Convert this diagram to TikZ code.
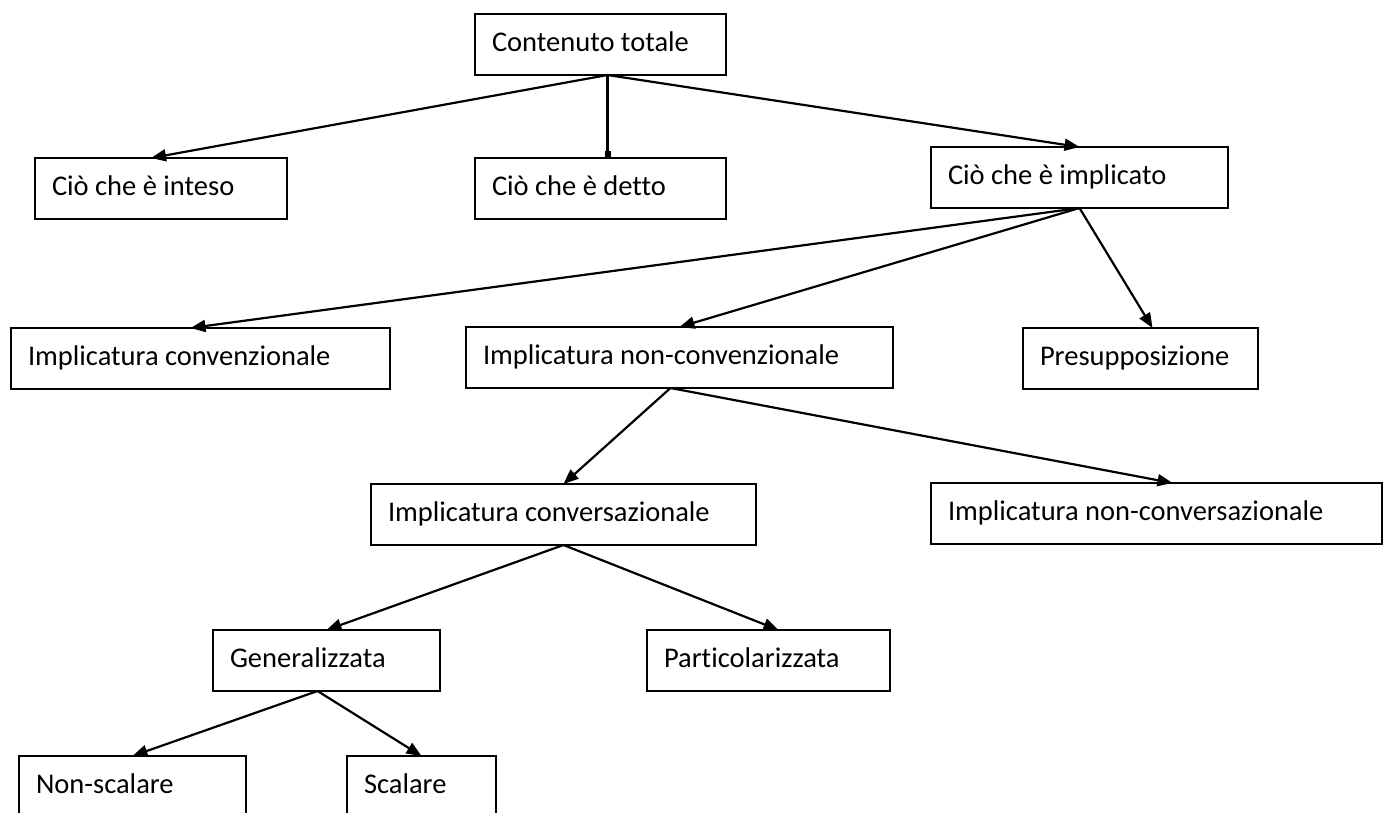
\documentclass[tikz,border=0pt]{standalone}
\usepackage{fontspec}
\setmainfont{Carlito}[Ligatures=NoCommon]
\usepackage{tikz}
\usetikzlibrary{arrows.meta}

\begin{document}
\begin{tikzpicture}
            [x=1pt, y=-1pt,
            box/.style = {draw, line width=2.4pt, anchor=north west,
                        outer sep=0pt, inner xsep=17pt, inner ysep=0pt,
                        minimum height=61pt, text height=20pt, text depth=6pt,
                        execute at begin node={\hbox to #1\bgroup},
                        execute at end node={\hfil\egroup},
                        font=\fontsize{28.5}{34}\selectfont},
            freccia/.style = {line width=2.2pt, -{Triangle[length=15pt,width=12pt]}}]
            \fill[white] (0,0) rectangle (1384,812);
            \useasboundingbox (0,0) rectangle (1384,812);
            % Nodi
            \node[box=217pt] (tot) at (475,14) {Contenuto totale};
            \node[box=218pt] (inteso) at (35,158) {Ciò che è inteso};
            \node[box=217pt] (detto) at (475,158) {Ciò che è detto};
            \node[box=263pt] (implicato) at (931,147) {Ciò che è implicato};
            \node[box=345pt] (convenz) at (11,328) {Implicatura convenzionale};
            \node[box=393pt] (nonconvenz) at (466,327) {Implicatura non-convenzionale};
            \node[box=201pt] (presupp) at (1023,328) {Presupposizione};
            \node[box=351pt] (conversaz) at (371,484) {Implicatura conversazionale};
            \node[box=417pt] (nonconversaz) at (931,483) {Implicatura non-conversazionale};
            \node[box=193pt] (general) at (213,630) {Generalizzata};
            \node[box=209pt] (partic) at (647,630) {Particolarizzata};
            \node[box=193pt] (nonscalare) at (19,756) {Non-scalare};
            \node[box=115pt] (scalare) at (347,756) {Scalare};
            % Frecce
            \draw [freccia] ([xshift=7pt]tot.south) -- ([xshift=-10pt]inteso.north);
            \draw [line width=2.2pt, -{Square[length=7pt,width=6pt]}] ([xshift=7pt]tot.south) -- ([xshift=7pt]detto.north);
            \draw [freccia] ([xshift=7pt]tot.south) -- (implicato.north);
            \draw [freccia] (implicato.south) -- ([xshift=-10pt]convenz.north);
            \draw [freccia] (implicato.south) -- (nonconvenz.north);
            \draw [freccia] (implicato.south) -- ([xshift=12pt]presupp.north);
            \draw [freccia] ([xshift=-9pt]nonconvenz.south) -- (conversaz.north);
            \draw [freccia] ([xshift=-9pt]nonconvenz.south) -- ([xshift=16pt]nonconversaz.north);
            \draw [freccia] (conversaz.south) -- (general.north);
            \draw [freccia] (conversaz.south) -- ([xshift=10pt]partic.north);
            \draw [freccia] ([xshift=-9pt]general.south) -- (nonscalare.north);
            \draw [freccia] ([xshift=-9pt]general.south) -- (scalare.north);
        \end{tikzpicture}
\end{document}
